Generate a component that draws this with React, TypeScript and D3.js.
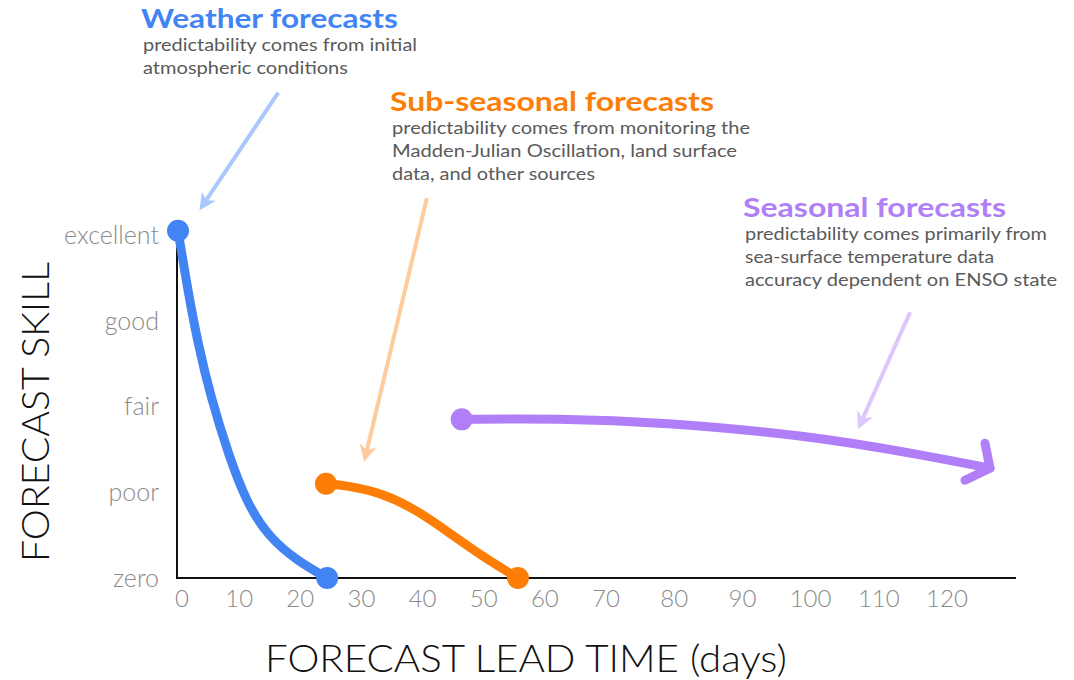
import React from "react";
import * as d3 from "d3";

// ---- data ----
const skillLevels = ["zero", "poor", "fair", "good", "excellent"];
const dayTicks = [0, 10, 20, 30, 40, 50, 60, 70, 80, 90, 100, 110, 120];

// [lead time (days), skill level index]
const weatherSeries: [number, number][] = [
  [0, 4.05], [1.5, 3.4], [3.2, 2.75], [5.4, 2.1], [8.2, 1.45], [11.2, 0.88], [14.8, 0.48], [19.5, 0.2], [24.4, 0],
];
const subSeasonalSeries: [number, number][] = [
  [24.2, 1.1], [27.5, 1.08], [33.5, 0.99], [39.1, 0.79], [44.5, 0.52], [50, 0.24], [55.6, 0],
];
const seasonalSeries: [number, number][] = [
  [46.4, 1.85], [62, 1.86], [78, 1.82], [100, 1.66], [116, 1.44], [126.3, 1.28],
];

const titles = ["Weather forecasts", "Sub-seasonal forecasts", "Seasonal forecasts"];
const subtitles = [
  ["predictability comes from initial", "atmospheric conditions"],
  ["predictability comes from monitoring the", "Madden-Julian Oscillation, land surface", "data, and other sources"],
  ["predictability comes primarily from", "sea-surface temperature data", "accuracy dependent on ENSO state"],
];
// annotation arrows [from, to] in data coords
const pointerArrows: [number, number][][] = [
  [[16.4, 5.66], [3.9, 4.33]],
  [[40.7, 4.43], [30.6, 1.4]],
  [[114.6, 3.1], [107.2, 1.78]],
];

// ---- styling ----
const W = 1074;
const H = 680;
const FONT = "Lato, 'Open Sans', sans-serif";
const colors = ["#4384f5", "#fc7e06", "#b07ff8"];
const lightColors = ["#aac8fb", "#fdcb9e", "#dcc8fb"];
const titleLayout = [
  { x: 141, y: 28, tw: 257, sw: [274, 205] },
  { x: 390, y: 111, tw: 324, sw: [358, 345, 203] },
  { x: 743, y: 217, tw: 263, sw: [302, 249, 312] },
];

export default function App() {
  const x = d3.scaleLinear().domain([0, 70, 120]).range([178, 606, 947]);
  const y = d3.scaleLinear().domain([0, 4]).range([578, 235]);
  const line = d3
    .line<[number, number]>()
    .x((d) => x(d[0]))
    .y((d) => y(d[1]))
    .curve(d3.curveBasis);
  const series = [weatherSeries, subSeasonalSeries, seasonalSeries];

  const seasonalTip = seasonalSeries[seasonalSeries.length - 1];
  const tx = x(seasonalTip[0]);
  const ty = y(seasonalTip[1]);

  return (
    <svg width={W} height={H} style={{ position: "absolute", left: 0, top: 0, background: "#fff" }} fontFamily={FONT}>
      <defs>
        {lightColors.map((c, i) => (
          <marker
            key={i}
            id={`head${i}`}
            viewBox="0 0 12 12"
            refX="9"
            refY="6"
            markerWidth="17"
            markerHeight="17"
            markerUnits="userSpaceOnUse"
            orient="auto"
          >
            <path d="M0,0 L12,6 L0,12 L3.5,6 Z" fill={c} />
          </marker>
        ))}
      </defs>

      {/* axes */}
      <line x1={x(0) - 1} x2={x(0) - 1} y1={242} y2={y(0)} stroke="#111" strokeWidth={2} />
      <line x1={x(0) - 2} x2={1016} y1={y(0)} y2={y(0)} stroke="#111" strokeWidth={2} />

      {skillLevels.map((s, i) => (
        <text key={s} x={159} y={y(i)} dy="0.35em" textAnchor="end" fontSize={25} fontWeight={300} fill="#8a8a8a">
          {s}
        </text>
      ))}
      {dayTicks.map((t) => (
        <text key={t} x={x(t) + (t === 0 ? 4 : 0)} y={607} textAnchor="middle" fontSize={24} fontWeight={300} fill="#8a8a8a">
          {t}
        </text>
      ))}

      <text x={526} y={672} textAnchor="middle" fontSize={37} fontWeight={300} fill="#111" textLength={522} lengthAdjust="spacingAndGlyphs">
        FORECAST LEAD TIME (days)
      </text>
      <text
        transform={`translate(49,412) rotate(-90)`}
        textAnchor="middle"
        fontSize={37}
        fontWeight={300}
        fill="#111"
        textLength={300}
        lengthAdjust="spacingAndGlyphs"
      >
        FORECAST SKILL
      </text>

      {/* pointer arrows */}
      {pointerArrows.map((a, i) => (
        <line
          key={i}
          x1={x(a[0][0])}
          y1={y(a[0][1])}
          x2={x(a[1][0])}
          y2={y(a[1][1])}
          stroke={lightColors[i]}
          strokeWidth={4}
          markerEnd={`url(#head${i})`}
        />
      ))}

      {/* series */}
      {series.map((s, i) => (
        <path key={i} d={line(s) || ""} fill="none" stroke={colors[i]} strokeWidth={9} strokeLinecap="round" strokeLinejoin="round" />
      ))}
      <polyline
        points={`${tx - 5},${ty - 25} ${tx},${ty} ${tx - 25},${ty + 12}`}
        fill="none"
        stroke={colors[2]}
        strokeWidth={9}
        strokeLinecap="round"
        strokeLinejoin="round"
      />
      {series.map((s, i) => (
        <g key={i}>
          <circle cx={x(s[0][0])} cy={y(s[0][1])} r={11} fill={colors[i]} />
          {i < 2 && <circle cx={x(s[s.length - 1][0])} cy={y(s[s.length - 1][1])} r={11} fill={colors[i]} />}
        </g>
      ))}

      {/* annotations */}
      {titles.map((t, i) => {
        const L = titleLayout[i];
        return (
          <g key={t}>
            <text x={L.x} y={L.y} fontSize={27} fontWeight={700} fill={colors[i]} textLength={L.tw} lengthAdjust="spacingAndGlyphs">
              {t}
            </text>
            {subtitles[i].map((s, j) => (
              <text
                key={j}
                x={L.x + 2}
                y={L.y + 23 + j * 23}
                fontSize={17.5}
                fill="#5a5a5a"
                textLength={L.sw[j]}
                lengthAdjust="spacingAndGlyphs"
              >
                {s}
              </text>
            ))}
          </g>
        );
      })}
    </svg>
  );
}
